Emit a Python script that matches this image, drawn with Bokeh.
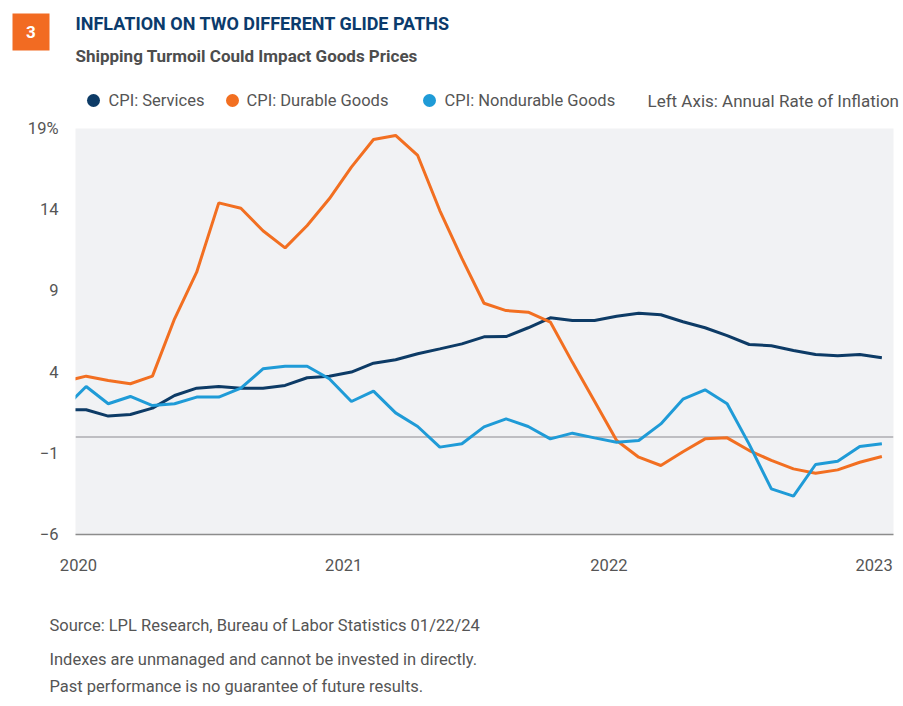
from bokeh.plotting import figure
from bokeh.layouts import column
from bokeh.models import Range1d, FixedTicker, Span, Label, BoxAnnotation
from bokeh.embed import file_html
from bokeh.resources import INLINE

# ---- data (monthly, year-over-year % change) ----
month_index = list(range(38))
services = [1.68, 1.68, 1.29, 1.39, 1.78, 2.56, 3.01, 3.11, 3.01, 3.01,
            3.18, 3.65, 3.75, 4.00, 4.55, 4.76, 5.13, 5.43, 5.74, 6.17,
            6.19, 6.73, 7.34, 7.18, 7.18, 7.44, 7.63, 7.53, 7.10, 6.73,
            6.25, 5.70, 5.62, 5.33, 5.08, 5.00, 5.08, 4.88]
durable = [3.42, 3.75, 3.48, 3.28, 3.75, 7.28, 10.15, 14.42, 14.09, 12.70,
           11.65, 13.03, 14.67, 16.62, 18.32, 18.57, 17.34, 13.95, 11.00, 8.24,
           7.79, 7.69, 7.08, 4.60, 2.20, -0.21, -1.24, -1.75, -0.90, -0.11,
           -0.05, -0.83, -1.44, -1.96, -2.23, -2.02, -1.55, -1.20]
nondurable = [1.75, 3.11, 2.05, 2.50, 1.94, 2.05, 2.46, 2.46, 3.01, 4.20,
              4.36, 4.36, 3.59, 2.19, 2.83, 1.49, 0.65, -0.62, -0.41, 0.63,
              1.12, 0.65, -0.11, 0.24, -0.05, -0.32, -0.21, 0.81, 2.33, 2.91,
              2.05, -0.45, -3.19, -3.64, -1.69, -1.49, -0.58, -0.41]
year_ticks = [2020, 2021, 2022, 2023]
y_ticks = [-6, -1, 4, 9, 14, 19]
series_names = ["CPI: Services", "CPI: Durable Goods", "CPI: Nondurable Goods"]

# ---- style ----
NAVY = "#0D3B66"
ORANGE = "#F26F21"
SKY = "#1F9BD7"
GRAY_TXT = "#555555"
FONT = "Roboto"
W = 903
HEAD_H, MAIN_H, FOOT_H = 116, 479, 111


def blank(height, y_top):
    f = figure(width=W, height=height, output_backend="svg", toolbar_location=None,
               x_range=Range1d(0, W), y_range=Range1d(y_top + height, y_top),
               x_axis_location=None, y_axis_location=None, min_border=0,
               frame_align=False)
    f.outline_line_color = None
    f.grid.visible = False
    f.background_fill_color = "white"
    f.border_fill_color = "white"
    return f


def txt(f, t, cx, cy, size, color, style="normal", align="left"):
    f.add_layout(Label(x=cx, y=cy, text=t, text_font=FONT, text_font_size=size,
                       text_color=color, text_font_style=style,
                       text_baseline="middle", text_align=align))


# ---------------- header ----------------
head = blank(HEAD_H, 0)
head.add_layout(BoxAnnotation(left=12, right=49, top=13, bottom=50,
                              fill_color="#F26B22", fill_alpha=1, line_alpha=0))
txt(head, "3", 30.5, 31.5, "17px", "white", "bold", "center")
txt(head, "INFLATION ON TWO DIFFERENT GLIDE PATHS", 75, 23, "18px", "#0B3B6C", "bold")
txt(head, "Shipping Turmoil Could Impact Goods Prices", 75, 55, "17px", "#4D4D4D", "bold")

# legend row: colour key dots + labels
key_dot_x = [93, 232, 429]
key_text_x = [108, 246, 444]
head.scatter(x=key_dot_x, y=[100] * 3, marker="circle", size=13,
             fill_color=[NAVY, ORANGE, SKY], line_color=None)
for name, tx in zip(series_names, key_text_x):
    txt(head, name, tx, 100, "16.5px", GRAY_TXT)
txt(head, "Left Axis: Annual Rate of Inflation", 647, 100, "17px", GRAY_TXT)

# ---------------- main chart ----------------
x = [2020 + (i - 0.65) / 12 for i in month_index]

p = figure(width=W, height=MAIN_H, output_backend="svg", toolbar_location=None,
           x_range=Range1d(2019.989, 2023.073), y_range=Range1d(-6, 19),
           min_border_left=75, min_border_right=10, min_border_top=12, min_border_bottom=61,
           frame_align=False)
p.background_fill_color = "#F1F2F4"
p.border_fill_color = "white"
p.outline_line_color = None
p.xgrid.visible = False
p.ygrid.visible = False

p.xaxis.ticker = FixedTicker(ticks=year_ticks)
p.xaxis.major_label_overrides = {t: str(t) for t in year_ticks}
p.xaxis.axis_line_color = "#8C8C8C"
p.xaxis.axis_line_width = 1.5
p.xaxis.major_tick_line_color = None
p.xaxis.minor_tick_line_color = None
p.xaxis.major_tick_out = 0
p.xaxis.major_label_standoff = 24
p.xaxis.major_label_text_font = FONT
p.xaxis.major_label_text_font_size = "16.5px"
p.xaxis.major_label_text_color = GRAY_TXT

p.yaxis.ticker = FixedTicker(ticks=y_ticks)
p.yaxis.major_label_overrides = {19: "19%"}
p.yaxis.axis_line_color = None
p.yaxis.major_tick_line_color = None
p.yaxis.minor_tick_line_color = None
p.yaxis.major_tick_out = 0
p.yaxis.major_label_standoff = 17
p.yaxis.major_label_text_font = FONT
p.yaxis.major_label_text_font_size = "16.5px"
p.yaxis.major_label_text_color = GRAY_TXT

p.add_layout(Span(location=0, dimension="width", line_color="#BEBEC2", line_width=2, level="underlay"))

p.line(x, services, line_color=NAVY, line_width=3)
p.line(x, durable, line_color=ORANGE, line_width=3)
p.line(x, nondurable, line_color=SKY, line_width=3)

# ---------------- footer ----------------
foot = blank(FOOT_H, HEAD_H + MAIN_H)
txt(foot, "Source: LPL Research, Bureau of Labor Statistics 01/22/24", 49, 625, "16.5px", GRAY_TXT)
txt(foot, "Indexes are unmanaged and cannot be invested in directly.", 49, 659, "16.5px", GRAY_TXT)
txt(foot, "Past performance is no guarantee of future results.", 49, 686, "16.5px", GRAY_TXT)

layout = column(head, p, foot, spacing=0)
open("out.html", "w").write(file_html(layout, INLINE))
